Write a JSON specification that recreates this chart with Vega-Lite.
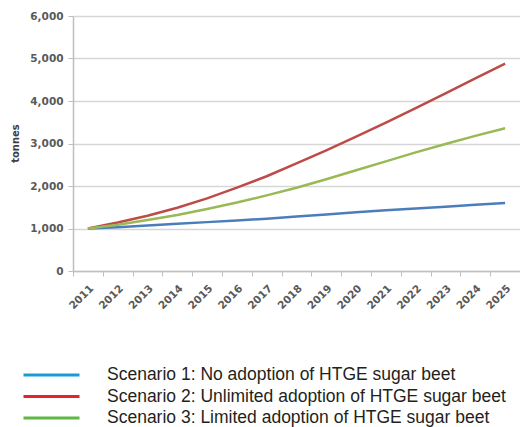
{
  "$schema": "https://vega.github.io/schema/vega-lite/v6.json",
  "width": 447,
  "height": 255,
  "autosize": {"type": "none"},
  "padding": {"left": 73, "top": 16, "right": 0, "bottom": 156},
  "background": "white",
  "config": {"view": {"stroke": null}},
  "data": {
    "values": [
      {"year": "2011", "scenario": "Scenario 1: No adoption of HTGE sugar beet", "value": 1000},
      {"year": "2012", "scenario": "Scenario 1: No adoption of HTGE sugar beet", "value": 1030},
      {"year": "2013", "scenario": "Scenario 1: No adoption of HTGE sugar beet", "value": 1070},
      {"year": "2014", "scenario": "Scenario 1: No adoption of HTGE sugar beet", "value": 1110},
      {"year": "2015", "scenario": "Scenario 1: No adoption of HTGE sugar beet", "value": 1150},
      {"year": "2016", "scenario": "Scenario 1: No adoption of HTGE sugar beet", "value": 1190},
      {"year": "2017", "scenario": "Scenario 1: No adoption of HTGE sugar beet", "value": 1230},
      {"year": "2018", "scenario": "Scenario 1: No adoption of HTGE sugar beet", "value": 1280},
      {"year": "2019", "scenario": "Scenario 1: No adoption of HTGE sugar beet", "value": 1330},
      {"year": "2020", "scenario": "Scenario 1: No adoption of HTGE sugar beet", "value": 1380},
      {"year": "2021", "scenario": "Scenario 1: No adoption of HTGE sugar beet", "value": 1430},
      {"year": "2022", "scenario": "Scenario 1: No adoption of HTGE sugar beet", "value": 1470},
      {"year": "2023", "scenario": "Scenario 1: No adoption of HTGE sugar beet", "value": 1510},
      {"year": "2024", "scenario": "Scenario 1: No adoption of HTGE sugar beet", "value": 1560},
      {"year": "2025", "scenario": "Scenario 1: No adoption of HTGE sugar beet", "value": 1600},
      {"year": "2011", "scenario": "Scenario 2: Unlimited adoption of HTGE sugar beet", "value": 1000},
      {"year": "2012", "scenario": "Scenario 2: Unlimited adoption of HTGE sugar beet", "value": 1140},
      {"year": "2013", "scenario": "Scenario 2: Unlimited adoption of HTGE sugar beet", "value": 1300},
      {"year": "2014", "scenario": "Scenario 2: Unlimited adoption of HTGE sugar beet", "value": 1490},
      {"year": "2015", "scenario": "Scenario 2: Unlimited adoption of HTGE sugar beet", "value": 1710},
      {"year": "2016", "scenario": "Scenario 2: Unlimited adoption of HTGE sugar beet", "value": 1960},
      {"year": "2017", "scenario": "Scenario 2: Unlimited adoption of HTGE sugar beet", "value": 2230},
      {"year": "2018", "scenario": "Scenario 2: Unlimited adoption of HTGE sugar beet", "value": 2530},
      {"year": "2019", "scenario": "Scenario 2: Unlimited adoption of HTGE sugar beet", "value": 2840},
      {"year": "2020", "scenario": "Scenario 2: Unlimited adoption of HTGE sugar beet", "value": 3160},
      {"year": "2021", "scenario": "Scenario 2: Unlimited adoption of HTGE sugar beet", "value": 3490},
      {"year": "2022", "scenario": "Scenario 2: Unlimited adoption of HTGE sugar beet", "value": 3830},
      {"year": "2023", "scenario": "Scenario 2: Unlimited adoption of HTGE sugar beet", "value": 4180},
      {"year": "2024", "scenario": "Scenario 2: Unlimited adoption of HTGE sugar beet", "value": 4530},
      {"year": "2025", "scenario": "Scenario 2: Unlimited adoption of HTGE sugar beet", "value": 4880},
      {"year": "2011", "scenario": "Scenario 3: Limited adoption of HTGE sugar beet", "value": 1000},
      {"year": "2012", "scenario": "Scenario 3: Limited adoption of HTGE sugar beet", "value": 1090},
      {"year": "2013", "scenario": "Scenario 3: Limited adoption of HTGE sugar beet", "value": 1200},
      {"year": "2014", "scenario": "Scenario 3: Limited adoption of HTGE sugar beet", "value": 1320},
      {"year": "2015", "scenario": "Scenario 3: Limited adoption of HTGE sugar beet", "value": 1460},
      {"year": "2016", "scenario": "Scenario 3: Limited adoption of HTGE sugar beet", "value": 1610},
      {"year": "2017", "scenario": "Scenario 3: Limited adoption of HTGE sugar beet", "value": 1780},
      {"year": "2018", "scenario": "Scenario 3: Limited adoption of HTGE sugar beet", "value": 1960},
      {"year": "2019", "scenario": "Scenario 3: Limited adoption of HTGE sugar beet", "value": 2160},
      {"year": "2020", "scenario": "Scenario 3: Limited adoption of HTGE sugar beet", "value": 2370},
      {"year": "2021", "scenario": "Scenario 3: Limited adoption of HTGE sugar beet", "value": 2580},
      {"year": "2022", "scenario": "Scenario 3: Limited adoption of HTGE sugar beet", "value": 2790},
      {"year": "2023", "scenario": "Scenario 3: Limited adoption of HTGE sugar beet", "value": 2990},
      {"year": "2024", "scenario": "Scenario 3: Limited adoption of HTGE sugar beet", "value": 3180},
      {"year": "2025", "scenario": "Scenario 3: Limited adoption of HTGE sugar beet", "value": 3360}
    ]
  },
  "encoding": {
    "x": {
      "field": "year",
      "type": "ordinal",
      "scale": {"paddingInner": 0, "paddingOuter": 0},
      "axis": {
        "title": null,
        "labelAngle": -45,
        "labelFont": "DejaVu Sans",
        "labelFontWeight": "bold",
        "labelFontSize": 10.5,
        "labelColor": "#595959",
        "labelPadding": 7,
        "tickBand": "extent",
        "tickSize": 5,
        "tickColor": "#bfbfbf",
        "domainColor": "#bfbfbf",
        "domainWidth": 1.5,
        "grid": false
      }
    },
    "y": {
      "field": "value",
      "type": "quantitative",
      "scale": {"domain": [0, 6000], "nice": false},
      "axis": {
        "title": "tonnes",
        "titleFont": "DejaVu Sans",
        "titleFontWeight": "bold",
        "titleFontSize": 10,
        "titleColor": "#404040",
        "titleX": -58,
        "titleY": 127,
        "titleAlign": "center",
        "titleBaseline": "middle",
        "values": [0, 1000, 2000, 3000, 4000, 5000, 6000],
        "format": ",.0f",
        "labelFont": "DejaVu Sans",
        "labelFontWeight": "bold",
        "labelFontSize": 10.5,
        "labelColor": "#595959",
        "labelPadding": 5,
        "tickSize": 5,
        "tickColor": "#bfbfbf",
        "domainColor": "#bfbfbf",
        "domainWidth": 1.5,
        "grid": true,
        "gridColor": "#d6d6d6",
        "gridWidth": 1.5
      }
    }
  },
  "layer": [
    {
      "mark": {"type": "line", "strokeWidth": 3, "opacity": 0},
      "encoding": {
        "stroke": {
          "field": "scenario",
          "type": "nominal",
          "scale": {"range": ["#1b9bd4", "#e8212a", "#5fb846"]},
          "legend": {
            "title": null,
            "orient": "none",
            "legendX": -33,
            "legendY": 347.5,
            "direction": "vertical",
            "padding": 0,
            "symbolType": "M-2.8,0H2.8",
            "symbolSize": 400,
            "symbolStrokeWidth": 3,
            "symbolOpacity": 1,
            "labelFont": "Liberation Sans",
            "labelFontSize": 17.5,
            "labelColor": "#231f20",
            "labelOffset": 44,
            "labelLimit": 0,
            "rowPadding": 1.5
          }
        }
      }
    },
    {
      "mark": {"type": "line", "strokeWidth": 2.5},
      "encoding": {
        "color": {
          "field": "scenario",
          "type": "nominal",
          "scale": {"range": ["#4a7ebb", "#be4b48", "#98b954"]},
          "legend": null
        }
      }
    }
  ]
}
